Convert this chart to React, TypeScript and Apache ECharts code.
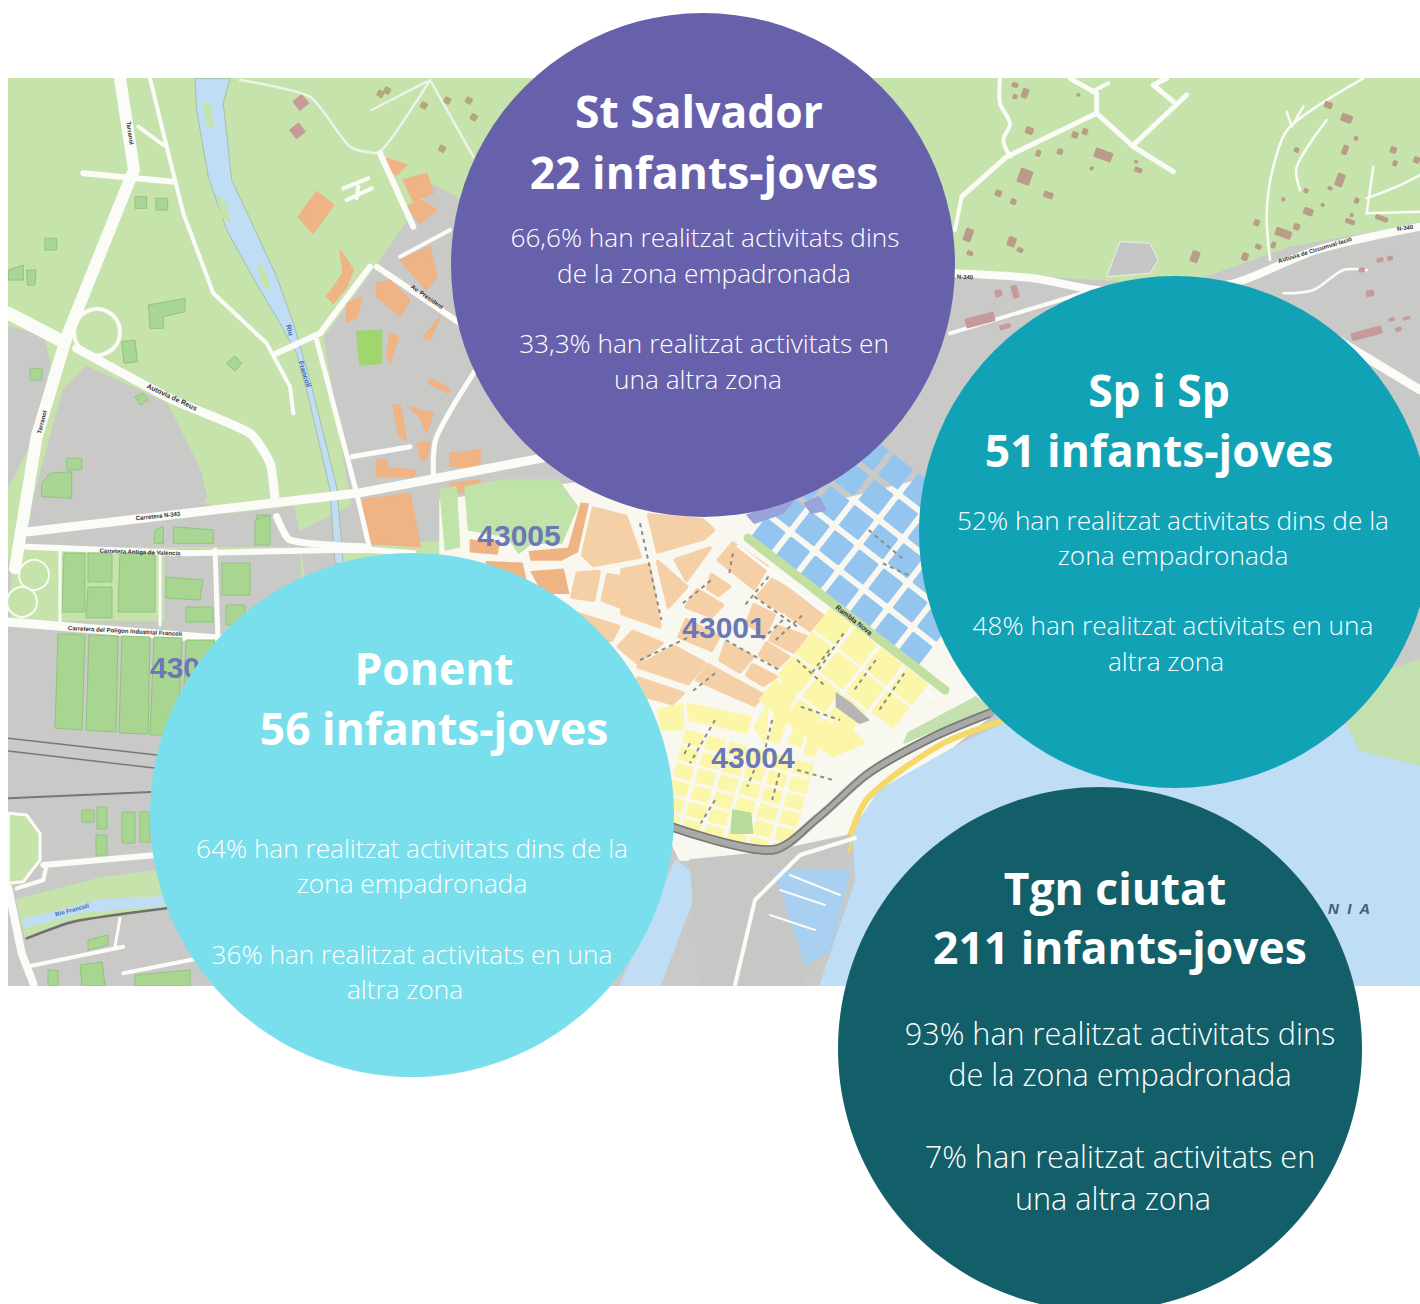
import React, { useEffect, useRef } from "react";
import * as echarts from "echarts";

// ---- data ----
const districts = ["St Salvador", "Sp i Sp", "Ponent", "Tgn ciutat"];
const childCounts = [22, 51, 56, 211];
const insideShare = ["66,6%", "52%", "64%", "93%"];
const outsideShare = ["33,3%", "48%", "36%", "7%"];
const insideWrap = [
  ["han realitzat activitats dins", "de la zona empadronada"],
  ["han realitzat activitats dins de la", "zona empadronada"],
  ["han realitzat activitats dins de la", "zona empadronada"],
  ["han realitzat activitats dins", "de la zona empadronada"],
];
const outsideWrap = [
  ["han realitzat activitats en", "una altra zona"],
  ["han realitzat activitats en una", "altra zona"],
  ["han realitzat activitats en una", "altra zona"],
  ["han realitzat activitats en", "una altra zona"],
];
const bubbleX = [703, 1175, 412, 1100];
const bubbleY = [265, 532, 815, 1049];
const bubbleDiameter = [504, 512, 524, 524];
const bubbleColors = ["#6761ab", "#11a2b5", "#79dfec", "#135f69"];

// ---- text placement of each bubble (x, y) ----
const titleAt = [[[699, 111], [704, 172]], [[1159, 390], [1159, 450]], [[434, 668], [434, 728]], [[1115, 888], [1120, 947]]];
const bodyAt = [
  [[705, 237], [704, 273], [704, 343], [698, 379]],
  [[1173, 520], [1173, 555], [1173, 625], [1166, 661]],
  [[412, 848], [412, 883], [412, 954], [405, 989]],
  [[1120, 1033], [1120, 1074], [1120, 1156], [1113, 1198]],
];
const bodySize = [26.2, 26.2, 26.2, 30.6];

// ---- base map colours ----
const GREEN = "#c6e3ab", GREY = "#c9c9c8", ROAD = "#fbfbf8", PEACH = "#f5cfa6", ORANGE = "#efb384",
  YELLOW = "#fbf6a8", BLUE = "#94c5ef", WATER = "#bfdef6", PATCH = "#a9d595", BROWN = "#b99d88", ROSE = "#c79a9a";

type Pt = number[];
const z1 = (p: Pt[]) => p.map(([x, y]) => [x / 3, 70 + y / 3]);
const z2 = (p: Pt[]) => p.map(([x, y]) => [440 + x / 2.8, 480 + y / 3]);
const z3 = (p: Pt[]) => p.map(([x, y]) => [900 + x / 3, 70 + y / 3]);
const z4 = (p: Pt[]) => p.map(([x, y]) => [x / 3, 560 + y / 3]);

function buildMap() {
  const els: any[] = [];
  const poly = (points: Pt[], fill: string, stroke?: string, w = 1.5) =>
    els.push({ type: "polygon", z: 0, silent: true, shape: { points }, style: { fill, stroke: stroke || fill, lineWidth: w, lineJoin: "round" } });
  const road = (points: Pt[], w: number, stroke = ROAD, smooth = 0) =>
    els.push({ type: "polyline", z: 0, silent: true, shape: { points, smooth }, style: { fill: "none", stroke, lineWidth: w, lineCap: "round", lineJoin: "round" } });
  const street = (points: Pt[]) =>
    els.push({ type: "polyline", z: 0, silent: true, shape: { points }, style: { fill: "none", stroke: "#8d8d86", lineWidth: 2, lineDash: [4, 4] } });
  const label = (text: string, x: number, y: number, deg: number, size = 7, fill = "#333") =>
    els.push({ type: "text", z: 0, silent: true, x, y, rotation: (-deg * Math.PI) / 180, style: { text, fill, fontSize: size, fontFamily: "Liberation Sans", fontWeight: "bold", align: "center", verticalAlign: "middle" } });
  const blob = (x: number, y: number, w: number, h: number, fill = BROWN, deg = 0) =>
    els.push({ type: "rect", z: 0, silent: true, x, y, originX: w / 2, originY: h / 2, rotation: (-deg * Math.PI) / 180, shape: { x: 0, y: 0, width: w, height: h, r: 1.5 }, style: { fill } });

  // ground
  els.push({ type: "rect", z: 0, silent: true, shape: { x: 8, y: 78, width: 1412, height: 908 }, style: { fill: GREY } });
  // upper and left greens
  poly([[8, 78], [1420, 78], [1420, 222], [1290, 246], [1180, 285], [960, 270], [880, 330], [600, 400], [500, 220], [433, 183], [367, 277], [323, 337], [350, 505], [290, 535], [200, 500], [30, 520], [8, 560]], GREEN);
  poly(z1([[25, 770], [130, 800], [150, 880], [100, 1100], [25, 1250]]), GREY);
  poly(z1([[100, 1290], [190, 960], [260, 890], [500, 1000], [600, 1200], [620, 1280], [600, 1310], [90, 1370]]), GREY);
  poly(z1([[85, 1400], [800, 1320], [880, 1310], [900, 1400], [820, 1440], [80, 1420]]), GREY);
  // lower-left strip with fields
  poly([[12, 548], [300, 548], [310, 620], [12, 620]], GREEN);
  poly([[165, 550], [300, 550], [300, 625], [165, 625]], GREY);
  poly([[340, 548], [470, 540], [470, 620], [340, 630]], GREEN);

  // river
  poly(z1([[585, 25], [590, 120], [625, 320], [680, 480], [775, 650], [840, 760], [890, 850], [925, 980], [990, 1260], [1005, 1480], [1030, 1480], [1010, 1250], [930, 930], [880, 760], [830, 620], [770, 490], [695, 330], [670, 100], [690, 25]]), WATER, "#a6bfa8", 1);
  poly(z1([[610, 95], [630, 105], [640, 180], [620, 160]]), GREEN);
  poly(z1([[655, 380], [675, 395], [690, 460], [665, 440]]), GREEN);
  poly(z1([[775, 585], [795, 600], [810, 660], [785, 640]]), GREEN);

  // patches and buildings on the left
  const patches: Pt[][] = [
    [[445, 705], [555, 685], [555, 725], [490, 740], [490, 775], [450, 775]],
    [[125, 1240], [150, 1210], [215, 1205], [215, 1285], [125, 1280]],
    [[200, 1165], [245, 1165], [245, 1200], [200, 1200]],
    [[25, 600], [70, 585], [70, 630], [25, 630]],
    [[80, 600], [108, 600], [105, 645], [82, 645]],
    [[405, 380], [440, 380], [440, 415], [405, 415]],
    [[468, 385], [503, 385], [503, 420], [468, 420]],
    [[135, 505], [170, 505], [170, 540], [135, 540]],
    [[365, 815], [405, 810], [412, 875], [372, 880]],
    [[680, 880], [705, 858], [725, 880], [705, 903]],
    [[405, 980], [430, 970], [445, 990], [420, 1005]],
    [[90, 895], [128, 895], [125, 930], [90, 930]],
    [[770, 1335], [805, 1335], [805, 1385], [770, 1385]],
    [[520, 1370], [640, 1380], [640, 1420], [520, 1420]],
    [[465, 1380], [490, 1370], [490, 1420], [462, 1420]],
  ];
  patches.forEach((p) => poly(z1(p), PATCH, "#8fc47d", 1));
  poly(z1([[880, 95], [905, 75], [925, 100], [900, 120]]), ROSE);
  poly(z1([[870, 180], [895, 160], [915, 185], [890, 205]]), ROSE);
  const huts: Pt[] = [[1160, 60], [1140, 70], [1270, 105], [1340, 90], [1405, 90], [1420, 140], [1325, 235]];
  huts.forEach(([x, y]) => blob(x / 3 - 3, 70 + y / 3 - 3, 7, 7, "#b5a878", 30));

  // orange buildings, left-centre
  const orangeZ1: Pt[][] = [
    [[895, 440], [950, 365], [1000, 405], [940, 490]],
    [[1160, 265], [1220, 285], [1190, 315], [1160, 300]],
    [[1210, 330], [1280, 310], [1300, 370], [1240, 395]],
    [[1220, 410], [1260, 390], [1310, 420], [1260, 460]],
    [[1020, 540], [1060, 600], [1040, 650], [1000, 700], [980, 680], [1030, 610]],
    [[1200, 570], [1290, 530], [1310, 620], [1280, 660]],
    [[1130, 640], [1170, 630], [1230, 690], [1200, 740], [1130, 680]],
    [[1270, 800], [1320, 740], [1290, 810]],
    [[1170, 790], [1195, 800], [1170, 880], [1160, 850]],
    [[1085, 1290], [1230, 1270], [1260, 1430], [1100, 1420]],
    [[1350, 1150], [1440, 1140], [1440, 1190], [1350, 1190]],
    [[1130, 1170], [1160, 1170], [1160, 1195], [1250, 1200], [1240, 1220], [1130, 1220]],
    [[1180, 1005], [1200, 1005], [1220, 1110], [1195, 1095]],
    [[1225, 1010], [1300, 1030], [1280, 1090], [1260, 1040]],
    [[1290, 925], [1350, 955], [1345, 970], [1285, 940]],
    [[1250, 1120], [1290, 1115], [1280, 1170], [1265, 1170]],
    [[1040, 700], [1085, 680], [1070, 745], [1040, 755]],
    [[1350, 1240], [1440, 1230], [1440, 1260], [1350, 1270]],
    [[1360, 1290], [1390, 1290], [1390, 1310], [1360, 1310]],
    [[1370, 1340], [1405, 1340], [1405, 1390], [1375, 1390]],
  ];
  orangeZ1.forEach((p) => poly(z1(p), ORANGE));
  poly(z1([[1070, 785], [1145, 780], [1145, 880], [1080, 885]]), "#a1d56f");

  // city ground
  poly([[440, 500], [600, 480], [700, 510], [800, 510], [960, 470], [1000, 600], [1010, 700], [900, 790], [820, 860], [680, 860], [600, 700], [440, 620]], "#f8f7f0");

  // city: park and orange band
  poly(z2([[70, 20], [180, 0], [330, 0], [385, 80], [340, 190], [255, 190], [220, 220], [190, 170], [80, 150]]), "#bfe3a8");
  poly(z2([[0, 30], [45, 20], [55, 200], [15, 210]]), "#bfe3a8");
  poly(z2([[250, 215], [360, 205], [395, 70], [415, 72], [385, 215], [340, 240], [255, 240]]), ORANGE);
  poly(z2([[85, 180], [165, 190], [160, 222], [85, 215]]), ORANGE);
  poly(z2([[255, 275], [345, 268], [360, 340], [290, 340]]), ORANGE);
  poly(z2([[130, 245], [230, 250], [240, 300], [130, 280]]), ORANGE);

  // peach blocks
  const peach: Pt[][] = [
    [[430, 85], [520, 110], [560, 230], [430, 255], [400, 225]],
    [[585, 105], [735, 120], [765, 150], [740, 175], [610, 215]],
    [[610, 245], [690, 320], [640, 380]],
    [[660, 240], [755, 205], [690, 300]],
    [[820, 190], [915, 260], [880, 325], [780, 240]],
    [[510, 270], [585, 255], [615, 440], [510, 400]],
    [[385, 280], [445, 275], [430, 360], [370, 350]],
    [[470, 285], [500, 290], [505, 380], [455, 360]],
    [[720, 330], [790, 375], [760, 410], [690, 380]],
    [[760, 285], [810, 320], [780, 345], [750, 325]],
    [[930, 300], [1005, 345], [960, 395], [890, 350]],
    [[1005, 350], [1075, 400], [1035, 450], [970, 400]],
    [[880, 375], [935, 405], [910, 465], [860, 430]],
    [[945, 440], [1025, 470], [990, 515], [925, 480]],
    [[800, 490], [875, 530], [840, 575], [785, 540]],
    [[915, 490], [975, 530], [945, 560], [895, 525]],
    [[875, 555], [940, 590], [905, 615], [860, 585]],
    [[540, 455], [620, 490], [555, 550], [500, 500]],
    [[655, 500], [740, 550], [695, 610], [555, 560]],
    [[750, 555], [905, 645], [880, 675], [720, 600]],
    [[690, 420], [780, 470], [760, 510], [670, 470]],
    [[555, 595], [680, 640], [650, 670], [580, 650]],
    [[380, 400], [500, 440], [480, 480], [400, 470]],
  ];
  peach.forEach((p) => poly(z2(p), PEACH, PEACH, 4));

  // blue blocks, Rambla north-east
  const ux = 0.79, uy = 0.615;
  const quad = (cx: number, cy: number, a: number, b: number, fill: string) => {
    const vx = uy, vy = -ux;
    poly([
      [cx - ux * a - vx * b, cy - uy * a - vy * b],
      [cx + ux * a - vx * b, cy + uy * a - vy * b],
      [cx + ux * a + vx * b, cy + uy * a + vy * b],
      [cx - ux * a + vx * b, cy - uy * a + vy * b],
    ], fill, fill, 3);
  };
  for (let i = 0; i < 7; i++) {
    for (let j = 0; j < 5; j++) {
      quad(768 + i * 31 * ux + j * 32 * uy, 535 + i * 31 * uy - j * 32 * ux, 11, 11.5, BLUE);
    }
  }
  poly(z2([[860, 105], [1000, 50], [960, 100], [880, 130]]), "#98a4da");
  poly(z2([[1020, 70], [1060, 50], [1080, 90], [1040, 100]]), "#98a4da");
  // Rambla strip
  road([[748, 538], [945, 690]], 9, "#c3dfa0");
  road([[738, 546], [935, 698]], 3, ROAD);

  // yellow blocks
  for (let i = 0; i < 4; i++) {
    for (let j = 0; j < 4; j++) {
      if (i === 3 && j > 1) continue;
      quad(833 + i * 32 * ux - j * 30 * uy, 627 + i * 32 * uy + j * 30 * ux, 12.5, 12, YELLOW);
    }
  }
  const yellowZ2: Pt[][] = [
    [[610, 690], [680, 670], [680, 750], [620, 750]],
    [[690, 670], [870, 710], [860, 760], [700, 720]],
    [[960, 600], [1000, 610], [950, 790], [920, 780]],
    [[1000, 720], [1030, 725], [1010, 800], [975, 790]],
    [[1040, 720], [1070, 730], [1050, 830], [1020, 820]],
    [[1110, 700], [1190, 790], [1100, 830], [1085, 810]],
    [[880, 740], [920, 670], [910, 790]],
  ];
  yellowZ2.forEach((p) => poly(z2(p), YELLOW));
  for (let i = 0; i < 6; i++) {
    for (let j = 0; j < 6; j++) {
      const x = 690 + i * 62 - j * 13, y = 750 + i * 18 + j * 50;
      if (x > 1020) continue;
      poly(z2([[x, y], [x + 46, y + 14], [x + 36, y + 50], [x - 10, y + 36]]), YELLOW);
    }
  }
  poly(z2([[820, 990], [870, 1000], [875, 1060], [815, 1060]]), "#b7dc9c");
  poly(z2([[1110, 640], [1150, 670], [1200, 720], [1175, 730], [1110, 680]]), "#b5b5b5");

  // street names seen as dashes between the blocks
  const dashes: Pt[][] = [
    [[560, 130], [620, 420]], [[560, 540], [700, 470]], [[680, 370], [760, 300]], [[770, 580], [700, 640]], [[820, 220], [810, 280]],
    [[880, 350], [1000, 440]], [[960, 420], [900, 480]], [[920, 290], [850, 380]], [[800, 480], [950, 570]], [[940, 480], [1020, 400]],
    [[1000, 540], [1080, 620]], [[1090, 510], [1040, 580]], [[1130, 460], [1060, 570]], [[1220, 540], [1160, 630]], [[1300, 580], [1230, 690]],
    [[1010, 680], [1120, 720]], [[930, 720], [910, 810]], [[700, 790], [680, 830]], [[770, 720], [700, 850]], [[880, 870], [860, 920]],
    [[770, 960], [730, 1030]], [[1000, 870], [1100, 900]], [[950, 880], [930, 960]], [[1200, 150], [1300, 240]], [[1240, 250], [1320, 290]],
  ];
  dashes.forEach((p) => street(z2(p)));

  // sea, beach, rail
  poly([[904, 743], [990, 707], [976, 697], [908, 733]], "#c4e0ae");
  poly([[1018, 716], [950, 750], [880, 790], [853, 830], [856, 880], [820, 986], [1420, 986], [1420, 700]], WATER);
  poly([[620, 986], [660, 895], [676, 860], [700, 880], [660, 986]], WATER);
  poly([[1330, 690], [1420, 660], [1420, 765], [1360, 750]], "#c4e0ae");
  road([[1005, 720], [940, 745], [869, 797], [851, 833], [848, 850]], 6, "#f5d968", 0.3);
  poly([[690, 860], [770, 852], [850, 835], [840, 900], [800, 986], [700, 986]], "#c7c7c6");
  poly([[775, 870], [850, 870], [830, 950], [805, 965]], "#a9d0f1");
  road([[780, 890], [825, 905]], 2, ROAD);
  road([[790, 875], [840, 895]], 2, ROAD);
  road([[770, 915], [815, 930]], 2, ROAD);
  road([[735, 985], [755, 900], [800, 855], [855, 838]], 4, ROAD);
  const railTop: Pt[] = [[990, 713], [933, 737], [869, 773], [819, 817], [772, 850], [672, 827]];
  road(railTop, 9, "#a9a9a5", 0.3);
  road(railTop.map(([x, y]) => [x, y - 4]), 1.5, "#777", 0.3);
  road(railTop.map(([x, y]) => [x, y + 4]), 1.5, "#777", 0.3);

  // top-right roads and buildings
  road(z3([[160, 610], [400, 625], [590, 660], [800, 660], [1000, 640], [1250, 540], [1560, 470]]), 8, ROAD, 0.3);
  road(z3([[185, 380], [320, 260], [590, 130], [700, 230], [820, 305]]), 5);
  road(z3([[590, 130], [590, 70], [510, 25]]), 5);
  road(z3([[700, 225], [860, 75]]), 5);
  road(z3([[800, 25], [760, 45], [820, 95]]), 5);
  road(z3([[625, 40], [575, 65]]), 4);
  road(z3([[300, 25], [300, 100], [330, 160], [310, 210], [330, 260]]), 4, ROAD, 0.3);
  road(z3([[1110, 570], [1100, 430], [1120, 290], [1170, 170], [1390, 25]]), 2.5, ROAD, 0.3);
  road(z3([[1160, 125], [1175, 170], [1210, 110]]), 2.5);
  road(z3([[1200, 360], [1190, 290], [1280, 150]]), 2.5, ROAD, 0.3);
  road(z3([[1400, 430], [1420, 290]]), 2.5);
  road(z3([[1400, 385], [1490, 350], [1560, 315]]), 2.5, ROAD, 0.3);
  road(z3([[1400, 430], [1560, 425]]), 2.5);
  road(z3([[185, 380], [165, 480]]), 4);
  road(z3([[1150, 670], [1240, 660], [1330, 600], [1400, 600]]), 2.5, ROAD, 0.3);
  road(z3([[150, 790], [580, 660]]), 4);
  road([[1280, 305], [1420, 390]], 9);
  poly(z3([[660, 515], [750, 520], [775, 570], [750, 610], [620, 620]]), "#c6c6c6", "#eee", 1);
  const houses: number[][] = [
    [375, 70, 20, 30], [345, 45, 20, 15], [345, 80, 15, 15], [388, 182, 25, 22], [525, 195, 20, 20], [555, 185, 18, 20], [480, 245, 18, 18],
    [415, 250, 15, 20], [610, 255, 55, 30], [715, 300, 25, 15], [575, 295, 12, 12], [708, 275, 12, 10], [375, 320, 40, 45], [295, 370, 20, 20],
    [340, 395, 18, 18], [445, 375, 30, 20], [205, 495, 25, 40], [335, 515, 25, 30], [210, 550, 20, 15], [360, 540, 20, 15], [1150, 490, 50, 25],
    [1190, 470, 20, 20], [1120, 525, 15, 20], [1075, 530, 20, 15], [1070, 458, 18, 20], [1035, 560, 20, 25], [885, 560, 25, 35], [1225, 425, 30, 22],
    [1150, 388, 12, 12], [1268, 405, 12, 12], [1218, 362, 15, 15], [1290, 355, 15, 12], [1320, 330, 25, 40], [1370, 392, 15, 18], [1340, 145, 35, 25],
    [1285, 105, 25, 20], [1368, 205, 14, 14], [1335, 240, 18, 30], [1190, 240, 16, 16], [1480, 240, 20, 20], [1485, 280, 15, 18], [1350, 455, 30, 15],
    [1445, 445, 40, 15], [1355, 435, 12, 12], [1550, 270, 20, 20], [535, 75, 12, 10],
  ];
  houses.forEach(([x, y, w, h]) => blob(900 + (x - w / 2) / 3, 70 + (y - h / 2) / 3, w / 3, h / 3, BROWN, 20));
  const lowHouses: number[][] = [
    [295, 670, 22, 22], [345, 665, 20, 40], [240, 750, 90, 30], [315, 770, 35, 15], [1410, 670, 25, 20], [1440, 570, 22, 14], [1470, 565, 18, 14],
    [1385, 600, 20, 14], [1475, 748, 20, 12], [1520, 745, 24, 10], [1495, 778, 20, 14], [1400, 790, 95, 25],
  ];
  lowHouses.forEach(([x, y, w, h]) => blob(900 + (x - w / 2) / 3, 70 + (y - h / 2) / 3, w / 3, h / 3, ROSE, -15));

  // left roads
  els.push({ type: "circle", z: 0, silent: true, shape: { cx: 97, cy: 332, r: 23 }, style: { fill: GREEN, stroke: ROAD, lineWidth: 4 } });
  road(z1([[360, 25], [402, 300], [385, 340], [200, 800], [110, 1100], [45, 1495]]), 12);
  road(z1([[450, 25], [500, 230], [550, 430], [640, 670], [800, 820], [870, 950], [880, 1030]]), 4, ROAD);
  road(z1([[415, 170], [490, 225]]), 4);
  road(z1([[250, 310], [520, 335]]), 6);
  road(z1([[25, 730], [180, 810]]), 13);
  road(z1([[230, 835], [520, 990], [750, 1090], [810, 1180], [825, 1290]]), 9, ROAD, 0.2);
  road(z1([[85, 1385], [1070, 1270], [1440, 1200], [1700, 1150]]), 9);
  road(z1([[80, 1430], [560, 1450], [1000, 1440], [1120, 1440], [1240, 1450]]), 6);
  road(z1([[830, 850], [960, 790], [1110, 590]]), 6);
  road(z1([[950, 810], [1070, 1270], [1110, 1440]]), 5);
  road(z1([[1130, 590], [1440, 800]]), 6);
  road(z1([[1200, 560], [1350, 480]]), 4);
  road(z1([[720, 30], [930, 80], [1050, 230], [1140, 245], [1290, 30]]), 2.5, "#eef3ea", 0.2);
  road(z1([[1290, 30], [1420, 260]]), 2.5, "#eef3ea");
  road(z1([[1115, 120], [1280, 35]]), 2.5, "#eef3ea");
  road(z1([[1030, 355], [1105, 325]]), 4);
  road(z1([[1040, 390], [1115, 355]]), 4);
  road(z1([[1075, 350], [1070, 385]]), 4);
  road(z1([[1140, 250], [1240, 470]]), 6);
  road(z1([[1055, 1160], [1230, 1130]]), 5);
  road(z1([[1300, 1210], [1310, 1100], [1440, 880]]), 5, ROAD, 0.3);
  road(z1([[830, 1340], [870, 1410], [1090, 1430]]), 7, ROAD, 0.2);

  // lower-left roads and blocks
  road([[8, 622], [230, 640]], 9);
  const fields: Pt[][] = [
    [[58, 634], [85, 635], [82, 730], [55, 728]], [[89, 635], [118, 636], [116, 732], [86, 730]],
    [[122, 636], [150, 637], [148, 734], [119, 733]], [[154, 637], [182, 638], [178, 735], [150, 735]],
    [[186, 640], [215, 640], [200, 735], [182, 735]],
    [[64, 553], [85, 553], [85, 612], [62, 612]], [[88, 553], [112, 553], [112, 582], [88, 582]], [[88, 587], [112, 587], [112, 618], [86, 618]],
    [[120, 553], [155, 553], [155, 612], [118, 612]], [[166, 577], [203, 580], [200, 600], [166, 598]], [[186, 607], [213, 607], [213, 622], [186, 622]],
    [[222, 563], [250, 563], [250, 595], [222, 595]], [[226, 605], [245, 605], [245, 625], [226, 625]], [[255, 520], [270, 515], [270, 545], [255, 545]],
    [[82, 810], [94, 810], [94, 822], [82, 822]], [[97, 807], [107, 807], [107, 829], [97, 829]], [[96, 835], [107, 835], [107, 855], [96, 855]],
    [[122, 812], [135, 812], [135, 843], [122, 843]], [[140, 812], [150, 812], [150, 842], [140, 842]],
    [[48, 970], [58, 970], [58, 986], [48, 986]], [[80, 965], [102, 962], [105, 986], [82, 986]], [[135, 975], [190, 970], [190, 986], [135, 986]],
    [[88, 940], [108, 935], [108, 945], [88, 950]],
  ];
  fields.forEach((p) => poly(p, "#a8d590", "#8fc47d", 1));
  els.push({ type: "circle", z: 0, silent: true, shape: { cx: 34, cy: 575, r: 15 }, style: { fill: GREEN, stroke: ROAD, lineWidth: 2 } });
  els.push({ type: "circle", z: 0, silent: true, shape: { cx: 22, cy: 602, r: 15 }, style: { fill: GREEN, stroke: ROAD, lineWidth: 2 } });
  road([[60, 550], [60, 625]], 3);
  road([[160, 550], [160, 625]], 3);
  road([[215, 550], [218, 640]], 5);
  poly(z4([[25, 760], [80, 765], [120, 820], [120, 900], [70, 965], [25, 970]]), GREEN, ROAD, 3);
  road(z4([[130, 915], [470, 885]]), 6);
  road(z4([[50, 985], [130, 960], [140, 915]]), 4);
  poly(z4([[50, 1020], [300, 955], [490, 930], [500, 1040], [200, 1080], [75, 1130]]), GREEN);
  poly(z4([[70, 1080], [300, 1020], [500, 1010], [505, 1035], [250, 1055], [75, 1100]]), WATER);
  road(z4([[80, 1135], [220, 1085], [500, 1045]]), 2.5, "#6f6f6a", 0.2);
  road(z4([[25, 985], [65, 1180], [100, 1270]]), 8);
  road(z4([[80, 1220], [370, 1160]]), 4);
  road(z4([[345, 1160], [360, 1075]]), 3);
  road(z4([[370, 1240], [620, 1190]]), 4);
  road(z4([[25, 535], [470, 585]]), 1.5, "#777");
  road(z4([[25, 573], [470, 625]]), 1.5, "#777");
  road(z4([[25, 715], [470, 695]]), 2, "#777");

  // road names (deg = clockwise)
  label("Tarranol", 130, 133, 82, 6);
  label("Tarranol", 42, 422, -75, 6);
  label("Autovia de Reus", 172, 397, 25, 7);
  label("Carretera N-343", 158, 516, -6, 6);
  label("Carretera Antiga de València", 140, 552, 2, 6);
  label("Carretera del Polígon Industrial Francolí", 125, 631, 3, 6);
  label("Av. President", 427, 297, 35, 6);
  label("Riu", 290, 330, 75, 7, "#3f6aa5");
  label("Francolí", 305, 374, 72, 7, "#3f6aa5");
  label("Riu Francolí", 72, 910, -15, 6, "#3f6aa5");
  label("Rambla Nova", 854, 620, 38, 7);
  label("Autovia de Circumval·lació", 1315, 250, -17, 6);
  label("N-340", 1405, 228, -8, 6);
  label("N-340", 965, 277, 3, 6);

  // postcodes
  [["43005", 519, 535], ["43001", 724, 627], ["43004", 753, 757]].forEach(([t, x, y]) =>
    els.push({ type: "text", z: 0, silent: true, x, y, style: { text: t, fill: "#6b78b6", fontSize: 30, fontFamily: "Liberation Sans", fontWeight: "bold", align: "center", verticalAlign: "middle" } })
  );
  els.push({ type: "text", z: 0, silent: true, x: 150, y: 667, style: { text: "430", fill: "#6b78b6", fontSize: 30, fontFamily: "Liberation Sans", fontWeight: "bold", align: "left", verticalAlign: "middle" } });
  els.push({ type: "text", z: 0, silent: true, x: 1349, y: 908, style: { text: "N  I  A", fill: "#3d5f7a", fontSize: 15, fontStyle: "italic", fontWeight: "bold", fontFamily: "Liberation Sans", align: "center", verticalAlign: "middle" } });

  // everything outside the map frame stays white
  const white = { fill: "#ffffff" };
  els.push({ type: "rect", z: 1, silent: true, shape: { x: 0, y: 0, width: 1420, height: 78 }, style: white });
  els.push({ type: "rect", z: 1, silent: true, shape: { x: 0, y: 986, width: 1420, height: 318 }, style: white });
  els.push({ type: "rect", z: 1, silent: true, shape: { x: 0, y: 0, width: 8, height: 1304 }, style: white });
  return els;
}

function buildTexts() {
  const els: any[] = [];
  const put = (text: string, [x, y]: number[], size: number, weight: number) =>
    els.push({ type: "text", z: 10, silent: true, x, y, style: { text, fill: "#ffffff", fontSize: size, fontWeight: weight, fontFamily: "'Open Sans'", align: "center", verticalAlign: "middle" } });
  districts.forEach((name, i) => {
    put(name, titleAt[i][0], 44.4, 700);
    put(`${childCounts[i]} infants-joves`, titleAt[i][1], 44.4, 700);
    const lines = [`${insideShare[i]} ${insideWrap[i][0]}`, insideWrap[i][1], `${outsideShare[i]} ${outsideWrap[i][0]}`, outsideWrap[i][1]];
    lines.forEach((l, k) => put(l, bodyAt[i][k], bodySize[i], 300));
  });
  return els;
}

export default function App() {
  const ref = useRef<HTMLDivElement>(null);
  useEffect(() => {
    document.body.style.margin = "0";
    const chart = echarts.init(ref.current!, undefined, { renderer: "svg" });
    chart.setOption({
      animation: false,
      backgroundColor: "#ffffff",
      grid: { left: 0, right: 0, top: 0, bottom: 0 },
      xAxis: { type: "value", min: 0, max: 1420, show: false },
      yAxis: { type: "value", min: 0, max: 1304, inverse: true, show: false },
      graphic: { elements: [...buildMap(), ...buildTexts()] },
      series: [
        {
          type: "scatter",
          silent: true,
          clip: true,
          z: 5,
          data: districts.map((name, i) => ({
            name,
            value: [bubbleX[i], bubbleY[i]],
            symbolSize: bubbleDiameter[i],
            itemStyle: { color: bubbleColors[i], opacity: 1 },
          })),
        },
      ],
    });
    return () => chart.dispose();
  }, []);
  return <div ref={ref} style={{ width: 1420, height: 1304 }} />;
}
